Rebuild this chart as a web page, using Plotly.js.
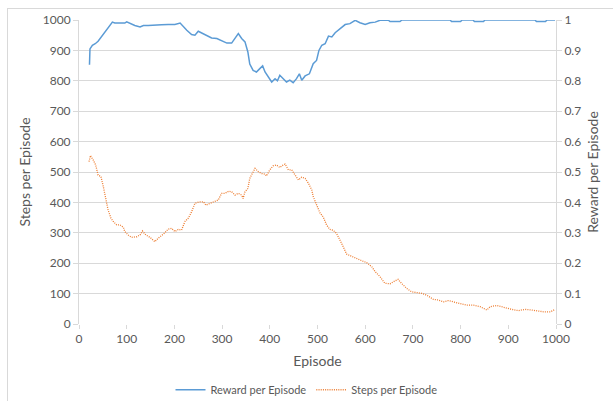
<!DOCTYPE html>
<html>
<head>
<meta charset="utf-8">
<script src="https://cdn.plot.ly/plotly-3.0.1.min.js"></script>
<style>
html,body{margin:0;padding:0;width:613px;height:401px;overflow:hidden;background:#fff;}
#frame{position:absolute;left:7px;top:8px;width:700px;height:500px;border:1px solid #d9d9d9;box-sizing:border-box;pointer-events:none;}
#chart{position:absolute;left:0;top:0;width:613px;height:401px;}
</style>
</head>
<body>
<div id="frame"></div>
<div id="chart"></div>
<script>
// Reward per Episode (right axis)
const rewardEpisodes = [22,23,28,34,40,48,54,61,70,75,86,96,100,107,117,128,135,145,159,173,187,201,212,219,226,236,243,250,257,268,278,289,299,310,320,327,334,341,348,354,358,365,372,379,385,390,397,404,411,416,421,428,435,442,449,456,462,467,474,483,491,498,503,509,516,523,530,537,544,551,558,568,579,589,600,610,621,631,642,648,652,673,677,778,781,800,803,826,829,848,851,956,959,978,981,998];
const rewardValues = [0.853,0.905,0.917,0.922,0.930,0.947,0.960,0.977,0.993,0.990,0.990,0.990,0.994,0.988,0.982,0.977,0.982,0.982,0.984,0.984,0.985,0.985,0.990,0.977,0.966,0.952,0.950,0.963,0.958,0.950,0.941,0.939,0.933,0.924,0.924,0.939,0.955,0.939,0.928,0.895,0.855,0.834,0.829,0.840,0.849,0.829,0.812,0.796,0.807,0.800,0.818,0.807,0.796,0.802,0.794,0.807,0.823,0.802,0.816,0.823,0.856,0.867,0.900,0.917,0.922,0.947,0.944,0.958,0.966,0.977,0.985,0.988,0.999,0.991,0.985,0.991,0.993,0.999,1,1,0.995,0.995,1,1,0.995,0.995,1,1,0.995,0.995,1,1,0.995,0.995,1,1];

// Steps per Episode (left axis)
const stepsEpisodes = [21,24,30,35,40,46,51,56,61,67,72,79,86,93,96,103,110,121,128,133,140,149,159,166,173,180,187,194,201,208,215,222,229,236,243,252,261,266,275,285,292,299,306,314,320,327,334,341,344,348,354,358,365,369,376,383,390,393,400,407,414,421,428,432,439,446,453,460,467,474,481,488,491,498,505,512,519,526,533,540,547,554,561,572,582,593,603,614,621,631,641,652,659,669,676,687,697,708,718,729,743,753,764,774,785,799,813,827,841,855,862,876,886,893,907,921,935,949,960,974,988,998];
const stepsValues = [534,554,539,523,490,485,452,408,375,348,337,326,326,318,304,293,285,287,293,306,293,285,271,282,290,300,312,315,304,311,309,337,348,369,397,402,402,391,397,402,408,430,430,437,435,424,430,424,413,435,446,479,498,512,501,495,493,487,507,520,523,515,523,526,507,507,490,474,483,479,463,441,419,391,366,352,326,311,308,298,278,254,230,222,214,208,202,188,172,156,134,132,139,147,134,117,106,103,101,95,81,79,73,77,73,68,62,62,57,46,57,61,57,52,48,44,48,46,44,40,40,48];

const xTicks = [0,100,200,300,400,500,600,700,800,900,1000];

const font = "Lato, 'Open Sans', 'Liberation Sans', sans-serif";
const grey = "#595959";

const traces = [
  {x: rewardEpisodes, y: rewardValues, name: "Reward per Episode", type: "scatter", mode: "lines",
   yaxis: "y2", line: {color: "#5B9BD5", width: 1.5}},
  {x: stepsEpisodes, y: stepsValues, name: "Steps per Episode", type: "scatter", mode: "lines",
   line: {color: "#ED7D31", width: 1.3, dash: "1px,1.2px"}}
];

const layout = {
  width: 613, height: 401,
  margin: {l: 79, r: 57, t: 20, b: 77, autoexpand: false},
  paper_bgcolor: "rgba(0,0,0,0)", plot_bgcolor: "rgba(0,0,0,0)",
  font: {family: font, size: 12, color: grey},
  showlegend: true,
  legend: {orientation: "h", x: 0.5, xref: "container", xanchor: "center",
           y: 0.028, yref: "container", yanchor: "middle",
           font: {size: 11, color: grey}, itemwidth: 30},
  xaxis: {range: [0, 1000], tickvals: xTicks, showgrid: false, zeroline: false, automargin: false,
          showline: false, ticks: "outside", ticklen: 4, tickcolor: "#d9d9d9",
          tickfont: {size: 12, color: grey},
          title: {text: "Episode", font: {size: 14, color: grey}, standoff: 10}},
  yaxis: {range: [0, 1000], dtick: 100, showgrid: true, gridcolor: "#d9d9d9", gridwidth: 1, automargin: false,
          zeroline: false, showline: true, linecolor: "#d9d9d9", ticks: "outside", ticklen: 5,
          tickcolor: "#d9d9d9", tickfont: {size: 12, color: grey},
          title: {text: "Steps per Episode", font: {size: 14, color: grey}, standoff: 8}},
  yaxis2: {range: [0, 1], dtick: 0.1, overlaying: "y", side: "right", showgrid: false, automargin: false,
           zeroline: false, showline: true, linecolor: "#d9d9d9", ticks: "outside", ticklen: 5,
           tickcolor: "#d9d9d9", tickfont: {size: 12, color: grey},
           title: {text: "Reward per Episode", font: {size: 14, color: grey}, standoff: 8}}
};

Plotly.newPlot("chart", traces, layout, {displayModeBar: false, staticPlot: true});
</script>
</body>
</html>
